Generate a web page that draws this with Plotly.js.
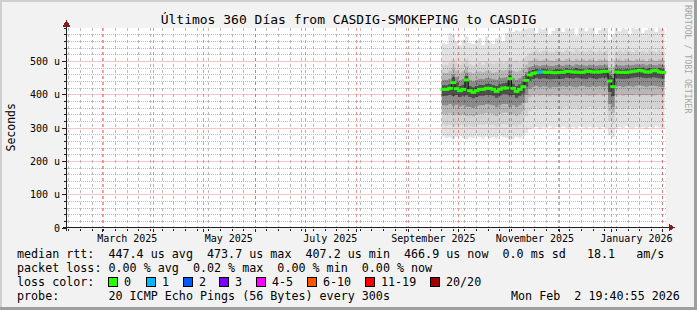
<!DOCTYPE html>
<html><head><meta charset="utf-8">
<script src="https://cdn.plot.ly/plotly-3.0.1.min.js"></script>
<style>
html,body{margin:0;padding:0;background:#f2f2f2;}
#chart{width:697px;height:310px;}
#chart .shapelayer path{shape-rendering:crispEdges;}
</style>
</head><body><div id="chart"></div>
<script>
// ---------- data ----------
const dates = [
'2025-09-21','2025-09-23','2025-09-25','2025-09-27','2025-09-29','2025-10-01','2025-10-03','2025-10-05','2025-10-07','2025-10-09',
'2025-10-11','2025-10-13','2025-10-15','2025-10-17','2025-10-19','2025-10-21','2025-10-23','2025-10-25','2025-10-27','2025-10-29',
'2025-10-31','2025-11-02','2025-11-04','2025-11-06','2025-11-08','2025-11-10','2025-11-12','2025-11-14','2025-11-16','2025-11-18',
'2025-11-20','2025-11-22','2025-11-24','2025-11-26','2025-11-28','2025-11-30','2025-12-02','2025-12-04','2025-12-06','2025-12-08',
'2025-12-10','2025-12-12','2025-12-14','2025-12-16','2025-12-18','2025-12-20','2025-12-22','2025-12-24','2025-12-26','2025-12-28',
'2025-12-30','2026-01-01','2026-01-03','2026-01-05','2026-01-07','2026-01-09','2026-01-11','2026-01-13','2026-01-15','2026-01-17',
'2026-01-19','2026-01-21','2026-01-23','2026-01-25','2026-01-27','2026-01-29','2026-01-31','2026-02-02'];

const median = [
416,416,419,436,418,412,416,444,412,407,
412,416,416,419,419,416,410,416,420,420,
448,419,410,416,424,443,459,464,466,468,
468,467,468,466,466,467,467,470,470,468,
468,467,467,470,470,468,468,468,470,470,
441,424,468,467,467,467,468,470,471,473,
471,468,468,472,472,468,467,467];

const loss = [
0,0,0,0,0,0,0,0,0,0, 0,0,0,0,0,0,0,0,0,0,
0,0,0,0,0,0,0,0,0,1, 0,0,0,0,0,0,0,0,0,0,
0,0,0,0,0,0,0,0,0,0, 0,0,0,0,0,0,0,0,0,0,
0,0,0,0,0,0,0,0];

// smoke envelopes, outermost (1) to innermost (5)
const smokeLo1 = [
275,270,272,268,274,276,270,266,272,270, 275,272,268,274,270,272,268,275,272,270,
265,268,274,270,276,285,296,300,303,298, 302,300,305,299,303,300,304,301,298,303,
300,305,302,299,304,300,302,298,303,300, 278,272,298,303,300,305,301,299,304,300,
302,298,303,300,305,301,299,302];
const smokeHi1 = [
555,552,585,580,560,548,565,575,556,552, 562,570,548,575,560,552,568,576,560,585,
592,588,594,590,596,598,605,610,585,612, 596,605,580,592,610,603,588,612,597,606,
578,610,604,590,611,600,582,595,610,602, 565,580,608,590,612,596,580,610,598,604,
585,594,611,600,588,603,598,609];
const smokeLo2 = [
310,306,309,304,308,308,310,303,306,303, 308,310,308,312,310,308,304,308,312,310,
303,308,304,308,316,335,352,358,362,357, 360,358,355,361,359,356,360,362,357,359,
361,356,360,358,362,359,356,361,358,360, 320,312,358,361,356,360,362,357,359,361,
356,360,358,362,359,356,360,359];
const smokeHi2 = [
488,490,495,505,494,490,496,508,492,488, 494,497,490,499,495,492,496,502,494,498,
512,500,503,497,506,515,525,530,534,528, 531,534,529,527,533,530,528,534,531,527,
535,529,532,528,534,530,527,533,529,532, 500,508,529,533,527,535,530,528,534,529,
532,527,535,530,528,533,529,531];
const smokeLo3 = [
342,340,344,338,342,338,342,336,338,335, 340,342,342,345,344,342,336,342,346,346,
338,342,336,342,350,375,392,398,401,397, 400,398,395,399,397,398,400,397,401,398,
396,399,401,398,397,399,398,401,397,399, 352,345,398,401,397,399,400,398,401,397,
399,398,400,397,399,401,398,399];
const smokeHi3 = [
466,465,470,482,472,466,470,486,468,464, 468,470,467,472,470,466,469,474,472,474,
490,472,469,472,480,490,500,503,506,502, 505,507,503,501,506,504,502,507,505,501,
508,503,506,502,507,504,501,506,503,505, 482,484,503,506,502,507,504,502,507,503,
506,501,508,504,502,506,503,505];
const smokeLo4 = [
368,368,372,366,370,365,368,364,364,360, 365,368,368,371,370,368,362,368,372,372,
364,368,362,368,376,400,418,423,426,422, 425,424,421,424,423,424,425,423,426,424,
422,425,426,424,423,425,424,426,423,425, 372,362,424,426,423,425,426,424,427,428,
426,424,426,427,426,424,423,424];
const smokeHi4 = [
445,444,448,462,452,443,447,466,444,440, 444,448,446,450,449,446,445,450,451,452,
470,450,444,449,456,468,482,486,489,486, 489,488,487,486,489,488,487,490,489,487,
491,489,488,487,490,488,487,489,488,490, 470,462,489,488,487,489,488,489,491,490,
492,488,491,489,488,491,489,488];
const smokeLo5 = [
396,397,400,396,399,393,397,398,393,389, 393,397,397,399,399,397,391,397,401,401,
398,399,391,397,403,424,442,447,450,447, 449,448,446,447,448,447,448,451,450,448,
451,449,448,447,451,449,447,449,451,451, 408,396,449,448,447,448,449,451,452,453,
451,449,451,452,451,449,448,448];
const smokeHi5 = [
428,428,432,452,436,426,430,456,426,422, 426,430,429,433,432,429,426,431,434,436,
458,433,426,431,438,458,470,474,477,475, 478,476,475,474,477,476,475,479,477,476,
480,477,476,475,479,477,475,477,477,479, 458,450,477,476,475,477,476,478,480,480,
481,477,480,478,477,480,478,476];

// axes
const monthTicks = ['2025-03-01','2025-04-01','2025-05-01','2025-06-01','2025-07-01','2025-08-01',
                    '2025-09-01','2025-10-01','2025-11-01','2025-12-01','2026-01-01','2026-02-01'];
const monthLabels = ['March 2025','','May 2025','','July 2025','','September 2025','','November 2025','','January 2026',''];
const yTicks = [0,100,200,300,400,500];
const yLabels = ['0','100 u','200 u','300 u','400 u','500 u'];

// legend content
const lossLabels = ['0','1','2','3','4-5','6-10','11-19','20/20'];
const lossColors = ['#26ff00','#00b8ff','#0059ff','#7e00ff','#ff00ff','#ff5500','#ff0000','#a10000'];
const statLine1 = 'median rtt:  447.4 us avg  473.7 us max  407.2 us min  466.9 us now  0.0 ms sd   18.1   am/s';
const statLine2 = 'packet loss: 0.00 % avg  0.02 % max  0.00 % min  0.00 % now';
const probeLine = 'probe:       20 ICMP Echo Pings (56 Bytes) every 300s';
const stampLine = 'Mon Feb  2 19:40:55 2026';
const titleText = 'Últimos 360 Días from CASDIG-SMOKEPING to CASDIG';

// ---------- layout helpers ----------
const W = 697, H = 310, ML = 67, MR = 31, MT = 28, MB = 82;
const PW = W - ML - MR, PH = H - MT - MB;
const YMAX = 600;
const T0 = Date.UTC(2025, 1, 7, 19, 40, 55), T1 = Date.UTC(2026, 1, 2, 19, 40, 55);
const px = v => (v - ML) / PW;
const py = v => (H - MB - v) / PH;
const MONO = "'DejaVu Sans Mono', monospace";
const nb = s => s.replace(/ /g, '\u00a0');
const pad = n => String(n).padStart(2, '0');
const fmt = ms => { const d = new Date(ms);
  return d.getUTCFullYear() + '-' + pad(d.getUTCMonth() + 1) + '-' + pad(d.getUTCDate()) + ' ' +
         pad(d.getUTCHours()) + ':' + pad(d.getUTCMinutes()) + ':' + pad(d.getUTCSeconds()); };
const snapV = v => { const p = Math.floor(MT + PH - v * PH / YMAX) + 0.5; return (MT + PH - p) * YMAX / PH; };

// ---------- traces ----------
const traces = [];
const bandAlpha = [0.114, 0.071, 0.124, 0.239, 0.429];
const bands = [[smokeLo1, smokeHi1],[smokeLo2, smokeHi2],[smokeLo3, smokeHi3],[smokeLo4, smokeHi4],[smokeLo5, smokeHi5]];
bands.forEach((b, i) => {
  traces.push({x: dates, y: b[0], mode: 'lines', line: {width: 0, shape: 'hv'}, hoverinfo: 'skip', showlegend: false});
  traces.push({x: dates, y: b[1], mode: 'lines', line: {width: 0, shape: 'hv'}, fill: 'tonexty',
               fillcolor: 'rgba(0,0,0,' + bandAlpha[i] + ')', hoverinfo: 'skip', showlegend: false});
});
traces.push({x: dates, y: median, mode: 'lines', line: {color: '#111111', width: 1, shape: 'hv'}, hoverinfo: 'skip', showlegend: false});
lossLabels.forEach((lab, c) => {
  const ys = median.map((v, i) => loss[i] === c ? v : null);
  if (ys.some(v => v !== null)) {
    traces.push({x: dates, y: ys, mode: 'markers', xperiod: 172800000, xperiod0: '2025-09-21', xperiodalignment: 'middle',
      marker: {symbol: 'line-ew', size: 4, color: lossColors[c], line: {width: 3, color: lossColors[c]}},
      hoverinfo: 'skip', showlegend: false});
  }
});

// ---------- horizontal grid (beneath the traces) ----------
const MGRID = 'rgba(222,79,79,0.6)', GRID = 'rgba(143,143,143,0.6)';
const shapes = [];
for (let v = 20; v < YMAX; v += 20) {
  const yv = snapV(v);
  const major = yTicks.indexOf(v) >= 0;
  shapes.push({type:'line', xref:'x', yref:'y', layer:'below', x0:fmt(T0), x1:fmt(T1), y0:yv, y1:yv,
               line: major ? {color:'rgba(222,79,79,0.32)', width:1} : {color:GRID, width:1, dash:'1px,1px'}});
}

// ---------- frame, axes and arrows ----------
const axisCol = '#1f1f1f', arrowCol = '#801f1f';
shapes.push(
  {type:'line', xref:'paper', yref:'paper', x0:px(0), x1:px(W), y0:py(1), y1:py(1), line:{color:'#cfcfcf', width:2}},
  {type:'line', xref:'paper', yref:'paper', x0:px(1), x1:px(1), y0:py(0), y1:py(H), line:{color:'#cfcfcf', width:2}},
  {type:'line', xref:'paper', yref:'paper', x0:px(0), x1:px(W), y0:py(H-1.5), y1:py(H-1.5), line:{color:'#9e9e9e', width:3}},
  {type:'line', xref:'paper', yref:'paper', x0:px(W-1.5), x1:px(W-1.5), y0:py(0), y1:py(H), line:{color:'#9e9e9e', width:3}},
  {type:'line', xref:'paper', yref:'paper', x0:px(63), x1:px(670), y0:py(227.5), y1:py(227.5), line:{color:axisCol, width:1}},
  {type:'line', xref:'paper', yref:'paper', x0:px(66.5), x1:px(66.5), y0:py(231), y1:py(25), line:{color:axisCol, width:1}},
  {type:'path', xref:'paper', yref:'paper', fillcolor:arrowCol, line:{color:arrowCol, width:1},
   path:`M ${px(669)} ${py(224.5)} L ${px(669)} ${py(230.5)} L ${px(674)} ${py(227.5)} Z`},
  {type:'path', xref:'paper', yref:'paper', fillcolor:arrowCol, line:{color:arrowCol, width:1},
   path:`M ${px(63.5)} ${py(26)} L ${px(69.5)} ${py(26)} L ${px(66.5)} ${py(21)} Z`}
);

// ---------- annotations ----------
const rowY = [254, 268, 282, 296];
const txt = (x, y, s, anchor, extra) => Object.assign({xref:'paper', yref:'paper', x:px(x), y:py(y), text:nb(s),
  showarrow:false, xanchor:anchor || 'left', yanchor:'middle', borderpad:0, font:{family:MONO, size:11.7, color:'#000'}}, extra || {});
const annotations = [
  txt(16, rowY[0], statLine1),
  txt(16, rowY[1], statLine2),
  txt(16, rowY[2], 'loss color:'),
  txt(16, rowY[3], probeLine),
  txt(681, rowY[3], stampLine, 'right'),
  txt(10.5, 128, 'Seconds', 'center', {textangle:-90, font:{family:MONO, size:11.5, color:'#000'}}),
  txt(688, 59, 'RRDTOOL / TOBI OETIKER', 'center', {textangle:90, font:{family:MONO, size:8.2, color:'#a6a6a6'}})
];
const boxX = [108, 146, 183, 219, 256, 307, 365, 430];
lossLabels.forEach((lab, i) => {
  shapes.push({type:'rect', xref:'paper', yref:'paper', x0:px(boxX[i]), x1:px(boxX[i]+9), y0:py(rowY[2]+4.5), y1:py(rowY[2]-4.5),
               fillcolor: lossColors[i], line:{color:'#000', width:1}});
  annotations.push(txt(boxX[i] + 15, rowY[2], lab));
});

// ---------- layout ----------
const layout = {
  width: W, height: H,
  margin: {l: ML, r: MR, t: MT, b: MB, pad: 0},
  paper_bgcolor: '#f2f2f2', plot_bgcolor: '#ffffff',
  showlegend: false,
  title: {text: titleText, x: 0.5, xref: 'container', xanchor: 'center', y: 1 - 19.3 / H, yanchor: 'middle',
          font: {family: MONO, size: 13, color: '#000'}},
  xaxis: {
    type: 'date', range: [fmt(T0), fmt(T1)], fixedrange: true,
    tickmode: 'array', tickvals: monthTicks, ticktext: monthLabels, ticklabelshift: 25, ticklabelstandoff: -2,
    ticks: 'outside', ticklen: 3, tickcolor: axisCol, tickfont: {family: MONO, size: 10, color: '#000'},
    showgrid: true, gridcolor: MGRID, griddash: 'dot', gridwidth: 1,
    minor: {tickmode: 'linear', tick0: '2025-02-09', dtick: 604800000, showgrid: true,
            gridcolor: GRID, griddash: 'dot', gridwidth: 1, ticks: 'outside', ticklen: 2, tickcolor: axisCol},
    showline: false, zeroline: false
  },
  yaxis: {
    range: [0, YMAX], fixedrange: true,
    tickmode: 'array', tickvals: yTicks, ticktext: yLabels,
    ticks: 'outside', ticklen: 4, tickcolor: axisCol, tickfont: {family: MONO, size: 10, color: '#000'},
    showgrid: false,
    minor: {tickmode: 'linear', tick0: 0, dtick: 20, showgrid: false, ticks: 'outside', ticklen: 2, tickcolor: axisCol},
    showline: false, zeroline: false
  },
  shapes: shapes,
  annotations: annotations
};

Plotly.newPlot('chart', traces, layout, {staticPlot: true, displayModeBar: false});
</script>
</body></html>
